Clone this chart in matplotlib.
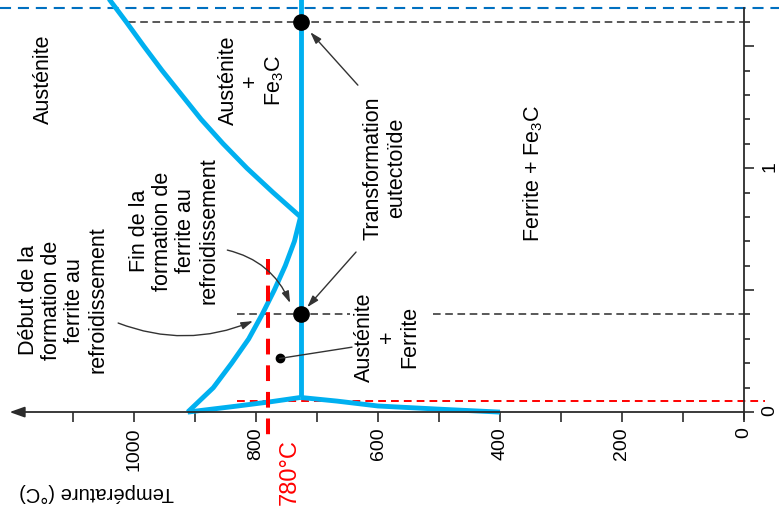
import numpy as np
import matplotlib.pyplot as plt

plt.rcParams['font.family'] = ['Liberation Sans', 'DejaVu Sans']
plt.rcParams['mathtext.fontset'] = 'custom'
plt.rcParams['mathtext.rm'] = 'Liberation Sans'
plt.rcParams['mathtext.default'] = 'regular'

# phase boundaries: temperature (°C) against carbon content (wt %)
a3_T = [912, 870, 840, 812, 790, 770, 752, 737, 727]
a3_C = [0.0, 0.1, 0.2, 0.3, 0.4, 0.5, 0.6, 0.7, 0.8]
acm_T = [727, 772, 815, 854, 890, 922, 954, 984, 1013, 1043]
acm_C = [0.8, 0.9, 1.0, 1.1, 1.2, 1.3, 1.4, 1.5, 1.6, 1.7]
ferrite_T = [912, 830, 777, 727]
ferrite_C = [0.0, 0.025, 0.042, 0.06]
solvus_T = [727, 667, 600, 500, 400]
solvus_C = [0.06, 0.045, 0.025, 0.012, 0.0]
eutectoid_T = 727
eutectoid_C = [0.06, 1.7]

# marked points and reference lines
points_T = [727, 727]
points_C = [1.6, 0.4]
alloy_T, alloy_C = 761, 0.22
quench_T = 780
low_C = 0.045
top_C = 1.656

temp_major = [0, 200, 400, 600, 800, 1000]
temp_minor = [100, 300, 500, 700, 900, 1100]
carbon_major = [0, 0.5, 1.0, 1.5]
carbon_labels = ['0', '', '1', '']
carbon_minor = [0.1, 0.2, 0.3, 0.4, 0.6, 0.7, 0.8, 0.9, 1.1, 1.2, 1.3, 1.4, 1.6]

blue = '#00B0F0'
axis_col = '#2b2b2b'

fig = plt.figure(figsize=(7.79, 5.07), dpi=100)
ax = fig.add_axes([0, 0, 1, 1])
ax.set_xlim(1219.7, -57.4)
ax.set_ylim(-0.389, 1.689)

# axes drawn through the origin, temperature increasing to the left
for s in ('left', 'top'):
    ax.spines[s].set_visible(False)
ax.spines['bottom'].set_position(('data', 0))
ax.spines['right'].set_position(('data', 0))
ax.spines['bottom'].set_bounds(0, 1185)
ax.spines['right'].set_bounds(-0.03, top_C)
for s in ('bottom', 'right'):
    ax.spines[s].set_color(axis_col)
    ax.spines[s].set_linewidth(1.3)
ax.annotate('', xy=(1204, 0), xytext=(1180, 0),
            arrowprops=dict(arrowstyle='-|>,head_length=0.9,head_width=0.32',
                            color=axis_col, lw=1.3, shrinkA=0, shrinkB=0))

ax.xaxis.set_ticks_position('bottom')
ax.yaxis.set_ticks_position('right')
ax.set_xticks(temp_major, [str(t) for t in temp_major])
ax.set_xticks(temp_minor, minor=True)
ax.set_yticks(carbon_major, carbon_labels)
ax.set_yticks(carbon_minor, minor=True)
ax.tick_params(axis='x', which='both', direction='out', length=7, width=1.2,
               color=axis_col, labelrotation=90, labelsize=14, pad=4)
ax.tick_params(axis='y', which='major', direction='out', length=7.5, width=1.2,
               color=axis_col, labelrotation=90, labelsize=14, pad=5)
ax.tick_params(axis='y', which='minor', direction='out', length=4.5, width=1.2,
               color=axis_col)

# reference lines
ax.axhline(top_C, color='#0070C0', lw=1.5, dashes=(5.3, 3.3))
ax.plot([1010, 0], [1.6, 1.6], color='#2b2b2b', lw=1.1, dashes=(5, 3))
ax.plot([831, 646], [0.4, 0.4], color='#2b2b2b', lw=1.1, dashes=(5, 3))
ax.plot([510, 0], [0.4, 0.4], color='#2b2b2b', lw=1.1, dashes=(5, 3))
ax.plot([831, -34], [low_C, low_C], color='#FF0000', lw=1.4, dashes=(4, 2.6))

# phase boundaries
kw = dict(color=blue, lw=3.5, solid_capstyle='butt', solid_joinstyle='round')
ax.plot(a3_T, a3_C, **kw)
ax.plot(acm_T, acm_C, **kw)
ax.plot(ferrite_T, ferrite_C, **kw)
ax.plot(solvus_T, solvus_C, **kw)
ax.plot([eutectoid_T, eutectoid_T], eutectoid_C, **kw)

# cooling temperature
ax.plot([quench_T, quench_T], [0.627, -0.127], color='#FF0000', lw=2.9,
        dashes=(3.9, 2.7), clip_on=False)
ax.text(744, -0.246, '780°C', color='#FF0000', rotation=90, ha='center',
        va='center', fontsize=17)

# points
ax.plot(points_T, points_C, 'o', color='black', ms=11)
ax.plot([alloy_T], [alloy_C], 'o', color='black', ms=6)

# labels
lab = dict(rotation=90, ha='center', va='center', fontsize=15.5,
           multialignment='center', linespacing=1.12)
ax.text(1149, 1.365, 'Austénite', **lab)
ax.text(807, 1.36, 'Austénite\n+\nFe$_3$C', **lab)
ax.text(589, 1.0, 'Transformation\neutectoïde', **lab)
ax.text(346, 0.98, 'Ferrite + Fe$_3$C', **lab)
ax.text(934, 0.742, 'Fin de la\nformation de\nferrite au\nrefroidissement', **lab)
ax.text(1116, 0.459, 'Début de la\nformation de\nferrite au\nrefroidissement', **lab)
ax.text(585, 0.307, 'Austénite\n+\nFerrite', **lab)
ax.text(1061, -0.328, 'Température (°C)', rotation=180, ha='center',
        va='center', fontsize=14.5)

# leader arrows
arr = dict(arrowstyle='-|>,head_length=0.7,head_width=0.22', color='#333333',
           lw=1.0, shrinkA=0, shrinkB=0)
ax.annotate('', xy=(711, 1.557), xytext=(633, 1.34), arrowprops=arr)
ax.annotate('', xy=(716, 0.43), xytext=(636, 0.656), arrowprops=arr)
ax.annotate('', xy=(744, 0.447), xytext=(847, 0.664),
            arrowprops=dict(arr, connectionstyle='arc3,rad=-0.25'))
ax.annotate('', xy=(805, 0.373), xytext=(1026, 0.365),
            arrowprops=dict(arr, connectionstyle='arc3,rad=0.2'))
ax.plot([643, alloy_T], [0.266, alloy_C], color='#333333', lw=1.0)

fig.savefig('out.png', dpi=100)
